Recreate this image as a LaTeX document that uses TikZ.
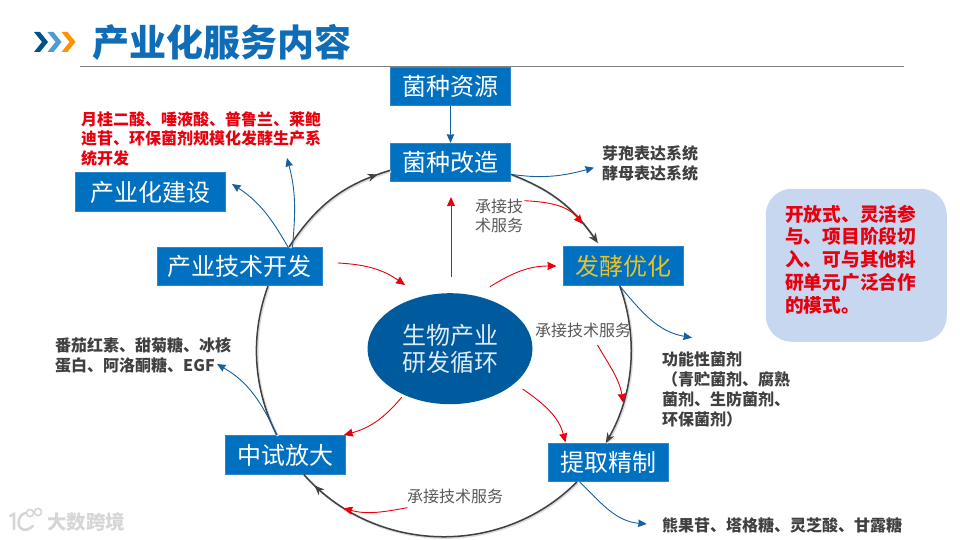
\documentclass[tikz,border=0pt]{standalone}
\usepackage{fontspec}
\setmainfont{Noto Sans CJK SC}
\usetikzlibrary{arrows.meta,positioning,decorations.markings,shapes.geometric}
\definecolor{cBox}{HTML}{0070C0}
\definecolor{cBoxEdge}{HTML}{2E86CC}
\definecolor{cCore}{HTML}{005A9E}
\definecolor{cCoreTxt}{HTML}{DDEBF7}
\definecolor{cTitle}{HTML}{0F6CB6}
\definecolor{cRing}{HTML}{404040}
\definecolor{cThin}{HTML}{15609F}
\definecolor{cRed}{HTML}{E8000E}
\definecolor{cInk}{HTML}{404040}
\definecolor{cNote}{HTML}{595959}
\definecolor{cGold}{HTML}{E6C229}
\definecolor{cPanel}{HTML}{C6D7EF}
\tikzset{
  boxn/.style={rectangle, draw=cBoxEdge, line width=0.7pt, fill=cBox, text=white, inner sep=0pt, minimum width=#1, minimum height=38.5pt, font=\fontsize{24}{26}\selectfont},
  prod/.style={anchor=west, inner sep=0pt, align=left, text=cInk, font=\fontsize{16}{20}\selectfont\bfseries},
  note/.style={anchor=west, inner sep=0pt, align=left, text=cNote, font=\fontsize{16}{19}\selectfont},
  ring/.style={draw=cRing, line width=1.5pt, preaction={draw=black!14, line width=2.2pt, transform canvas={xshift=1pt,yshift=-1pt}}},
  ringtip/.style={postaction={decorate}, decoration={markings, mark=at position #1 with {\arrow{Stealth[length=10pt,width=8pt]}}}},
  bluef/.style={draw=cThin, line width=0.9pt, -{Stealth[length=8.5pt,width=7.5pt,inset=0.5pt]}},
  redf/.style={draw=cRed, line width=0.9pt, -{Stealth[length=9pt,width=8pt,inset=0.5pt]}},
}
\begin{document}
\begin{tikzpicture}[x=1pt,y=-1pt]
\useasboundingbox (0,0) rectangle (960,540);
% heading
\fill[fill=cCore!90!black] (34,32)--(40,32)--(48,42)--(40,52)--(34,52)--(42,42)--cycle;
\fill[fill=cBox!70!white] (47.5,32)--(53.5,32)--(61.5,42)--(53.5,52)--(47.5,52)--(55.5,42)--cycle;
\fill[fill=orange!85!yellow] (61.5,32)--(67.5,32)--(75.5,42)--(67.5,52)--(61.5,52)--(69.5,42)--cycle;
\node[anchor=west, inner sep=0pt, text=cTitle, font=\fontsize{37}{40}\selectfont\bfseries] (title) at (92,42) {产业化服务内容};
\draw[draw=black!50, line width=0.9pt] (79.5,66.5) -- (904,66.5);
% boxes
\node[boxn=120.3pt] (ziyuan) at (450.5,86.5) {菌种资源};
\node[boxn=120.3pt, below=36.7pt of ziyuan] (gaizao) {菌种改造};
\node[boxn=150.3pt] (jianshe) at (150.5,192) {产业化建设};
\node[boxn=165.3pt] (jishu) at (239.5,266.5) {产业技术开发};
\node[boxn=120.3pt, text=cGold] (fajiao) at (623.3,266) {发酵优化};
\node[boxn=120.3pt] (zhongshi) at (285.3,455) {中试放大};
\node[boxn=120.3pt] (tiqu) at (608.3,462.5) {提取精制};
\node[ellipse, fill=cCore, inner sep=0pt, minimum width=165pt, minimum height=111pt, text=cCoreTxt, align=center, font=\fontsize{24}{27}\selectfont] (core) at (450,348.7) {生物产业\\研发循环};
% texts
\node[prod, text=cRed, font=\fontsize{16}{19.5}\selectfont\bfseries] (hongzi) at (81,138.5) {月桂二酸、唾液酸、普鲁兰、莱鲍\\迪苷、环保菌剂规模化发酵生产系\\统开发};
\node[prod] (biaoda) at (602,163) {芽孢表达系统\\酵母表达系统};
\node[prod] (fanqie) at (55,355) {番茄红素、甜菊糖、冰核\\蛋白、阿洛酮糖、EGF};
\node[prod] (gongneng) at (662,389.5) {功能性菌剂\\（青贮菌剂、腐熟\\菌剂、生防菌剂、\\环保菌剂）};
\node[prod] (xiongguo) at (662,525) {熊果苷、塔格糖、灵芝酸、甘露糖};
\node[note] (lblA) at (475,215.5) {承接技\\术服务};
\node[note] (lblB) at (535,330.7) {承接技术服务};
\node[note] (lblC) at (407,496.7) {承接技术服务};
\node[rectangle, rounded corners=26pt, fill=cPanel, minimum width=181pt, minimum height=153pt] (panel) at (856.3,265.3) {};
\node[anchor=west, inner sep=0pt, align=left, text=cRed, font=\fontsize{18.7}{22.8}\selectfont\bfseries] (panelTxt) at (785,259.5) {开放式、灵活参\\与、项目阶段切\\入、可与其他科\\研单元广泛合作\\的模式。};
% free ends
\coordinate (tipHong) at (287,158);
\coordinate (tipBiao) at (594,167.7);
\coordinate (tipGong) at (692,337.7);
\coordinate (tipFan) at (217,364);
\coordinate (tipXiong) at (646.7,524);
\coordinate (tipRingA) at (582.7,224);
\coordinate (tipRingB) at (623.3,402.7);
\coordinate (tipRingC) at (343.3,508.3);
% ring
\draw[ring, ringtip=0.9] ([shift={(49.5,-19.5)}]jishu.center) to[out=56.4, in=196.7] ([shift={(-60.5,8)}]gaizao.center);
\draw[ring, -{Stealth[length=10pt,width=8pt]}] ([shift={(60.5,12)}]gaizao.center) to[out=-21, in=124.8] ([shift={(-25.5,-23)}]fajiao.center);
\draw[ring, -{Stealth[length=10pt,width=8pt]}] ([shift={(-3.5,20)}]fajiao.center) to[out=-70, in=60.1, looseness=0.9] ([shift={(-2.5,-19.5)}]tiqu.center);
\draw[ring, ringtip=0.95] ([shift={(-31.5,19.5)}]tiqu.center) to[out=-134.8, in=-48.5] ([shift={(18.5,19.5)}]zhongshi.center);
\draw[ring] ([shift={(-8.5,-20)}]zhongshi.center) to[out=117, in=250, looseness=0.9] ([shift={(28.5,19.5)}]jishu.center);
% blue arrows
\draw[bluef] (ziyuan) -- (gaizao);
\draw[bluef] ([shift={(48.5,-19.5)}]jishu.center) to[out=120, in=-33] ([shift={(81.5,-8)}]jianshe.center);
\draw[bluef] ([shift={(53,-19.5)}]jishu.center) to[out=85, in=-75] (tipHong);
\draw[bluef] ([shift={(61,12)}]gaizao.center) to[out=-8, in=195] (tipBiao);
\draw[bluef] ([shift={(-4,19.5)}]fajiao.center) to[out=-50, in=170] (tipGong);
\draw[bluef] ([shift={(-8.5,-20)}]zhongshi.center) to[out=115, in=-30] (tipFan);
\draw[bluef] ([shift={(-28.5,19.5)}]tiqu.center) to[out=-45, in=175] (tipXiong);
% red arrows
\draw[redf] ([shift={(98.5,-3.5)}]jishu.center) to[out=-3, in=145] ([shift={(-45,-63.7)}]core.center);
\draw[redf] ([shift={(1,-71.7)}]core.center) -- ([shift={(0.5,34.7)}]gaizao.center);
\draw[redf] ([shift={(40,-62)}]core.center) to[out=32, in=180] ([shift={(-66.8,0)}]fajiao.center);
\draw[redf] ([shift={(72.7,40.3)}]core.center) to[out=-35, in=105] ([shift={(-42.8,-20.2)}]tiqu.center);
\draw[redf] ([shift={(-48.3,48.6)}]core.center) to[out=-130, in=15] ([shift={(58.5,-20)}]zhongshi.center);
\draw[redf] ([shift={(1,-14.8)}]lblA.east) to[out=-3, in=130] (tipRingA);
\draw[redf] ([shift={(14.3,14.3)}]lblB.center) to[out=-60, in=100] (tipRingB);
\draw[redf] ([shift={(-47.7,11)}]lblC.center) to[out=190, in=-15] (tipRingC);
% watermark
\draw[draw=black!16, line width=2.6pt, line cap=round] (10,516) -- (14,514) -- (14,529);
\draw[draw=black!16, line width=2.6pt, line cap=round] (33,526) .. controls (24,534) and (17,528) .. (19,520) .. controls (20,516) and (22,514) .. (25,513);
\draw[draw=black!16, line width=1.6pt] (30,513) circle (3.6);
\draw[draw=black!16, line width=1.6pt] (38,512) circle (3.6);
\node[inner sep=0pt, text=black!16, font=\fontsize{19.5}{20}\selectfont\bfseries] (mark) at (86,522) {大数跨境};
\end{tikzpicture}
\end{document}
